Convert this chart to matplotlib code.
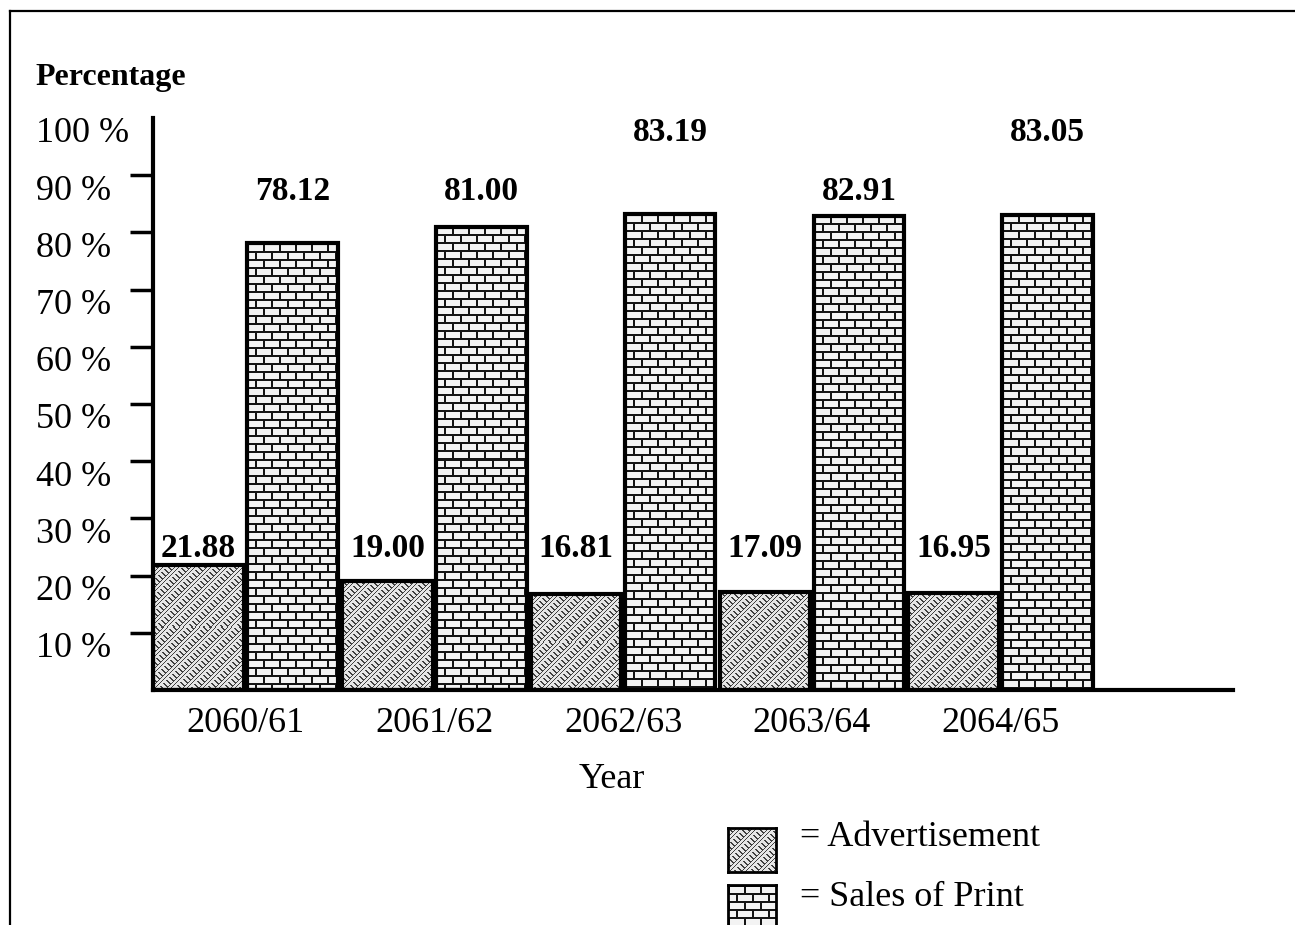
import numpy as np
import matplotlib
matplotlib.use("Agg")
import matplotlib.pyplot as plt
from matplotlib.lines import Line2D
from matplotlib.transforms import ScaledTranslation

plt.rcParams["font.family"] = ["Liberation Serif", "DejaVu Serif"]

# ---- data ----
years = ["2060/61", "2061/62", "2062/63", "2063/64", "2064/65"]
advertisement = [21.88, 19.00, 16.81, 17.09, 16.95]
sales_of_print = [78.12, 81.00, 83.19, 82.91, 83.05]
y_ticks = [10, 20, 30, 40, 50, 60, 70, 80, 90, 100]
y_tick_labels = [f"{t} %" for t in y_ticks]

# label heights (data units) for the value annotations
adv_label_y = [24.8, 24.8, 24.8, 24.8, 24.8]
sales_label_y = [87.2, 87.2, 97.4, 87.2, 97.4]


def brick_texture(ny, nx):
    yy, xx = np.mgrid[0:ny, 0:nx]
    row = yy // 8
    horiz = (yy % 8) < 2
    vert = ((xx + (row % 2) * 8) % 16) < 2
    img = np.full((ny, nx), 0.95)
    img[horiz | vert] = 0.08
    return img


def herringbone_texture(ny, nx):
    yy, xx = np.mgrid[0:ny, 0:nx]
    u = xx + yy
    v = xx - yy
    band = (u // 8) % 2
    dark = np.where(band == 0, (v % 6) < 2, (u % 4) < 1)
    img = np.full((ny, nx), 0.9)
    img[dark] = 0.25
    return img


W, H = 1295, 925
fig = plt.figure(figsize=(W / 100, H / 100), dpi=100)
ax = fig.add_axes([153 / W, 1 - 690 / H, 1080 / W, 572 / H])

x = np.arange(len(years))
bw = 0.48
off = 0.249
xlim = (-0.49, 5.23)
ylim = (0, 100)

adv_bars = ax.bar(x - off, advertisement, width=bw, facecolor="none",
                  edgecolor="black", linewidth=3, zorder=3)
sales_bars = ax.bar(x + off, sales_of_print, width=bw, facecolor="none",
                    edgecolor="black", linewidth=3, zorder=3)
ax.set_xlim(*xlim)
ax.set_ylim(*ylim)


def fill_with_texture(bars, maker):
    for rect in bars:
        x0, y0 = rect.get_x(), rect.get_y()
        w, h = rect.get_width(), rect.get_height()
        p0 = ax.transData.transform((x0, y0))
        p1 = ax.transData.transform((x0 + w, y0 + h))
        nx = max(int(round(p1[0] - p0[0])), 1)
        ny = max(int(round(p1[1] - p0[1])), 1)
        im = ax.imshow(maker(ny, nx), cmap="gray", vmin=0, vmax=1,
                       extent=(x0, x0 + w, y0, y0 + h), aspect="auto",
                       interpolation="nearest", zorder=2)
        im.set_clip_path(rect)


fill_with_texture(adv_bars, herringbone_texture)
fill_with_texture(sales_bars, brick_texture)
ax.set_xlim(*xlim)
ax.set_ylim(*ylim)

# axes styling
for side in ("top", "right"):
    ax.spines[side].set_visible(False)
ax.spines["left"].set_linewidth(3)
ax.spines["bottom"].set_linewidth(3)
ax.spines["left"].set_zorder(4)
ax.spines["bottom"].set_zorder(4)

ax.set_yticks(y_ticks)
ax.set_yticklabels(y_tick_labels, fontsize=26)
ax.tick_params(axis="y", direction="out", length=16.5, width=2.5, pad=68)
for lbl in ax.get_yticklabels():
    lbl.set_horizontalalignment("left")
    lbl.set_transform(lbl.get_transform()
                      + ScaledTranslation(0, -0.12, fig.dpi_scale_trans))
ax.yaxis.get_major_ticks()[-1].tick1line.set_visible(False)

ax.set_xticks(x)
ax.set_xticklabels(years, fontsize=26)
ax.tick_params(axis="x", length=0, pad=12)

# value annotations
for xi, v, ly in zip(x - off, advertisement, adv_label_y):
    ax.text(xi, ly, f"{v:.2f}", ha="center", va="center",
            fontsize=24, fontweight="bold")
for xi, v, ly in zip(x + off, sales_of_print, sales_label_y):
    ax.text(xi, ly, f"{v:.2f}", ha="center", va="center",
            fontsize=24, fontweight="bold")

# titles
fig.text(35 / W, 1 - 77 / H, "Percentage", fontsize=23, fontweight="bold",
         ha="left", va="center")
fig.text(612 / W, 1 - 780 / H, "Year", fontsize=26, ha="center", va="center")

# legend swatches
legend_items = [("= Advertisement", herringbone_texture, 828, 838),
                ("= Sales of Print", brick_texture, 885, 898)]
for text, maker, top_px, text_y in legend_items:
    sw = fig.add_axes([728 / W, 1 - (top_px + 44) / H, 48 / W, 44 / H])
    sw.imshow(maker(44, 48), cmap="gray", vmin=0, vmax=1,
              interpolation="nearest", aspect="auto")
    sw.set_xticks([])
    sw.set_yticks([])
    for s in sw.spines.values():
        s.set_linewidth(2)
    fig.text(800 / W, 1 - text_y / H, text, fontsize=26, ha="left", va="center")

# page frame
fig.add_artist(Line2D([10 / W, 1], [1 - 11 / H, 1 - 11 / H],
                      transform=fig.transFigure, color="black", linewidth=1.6))
fig.add_artist(Line2D([10 / W, 10 / W], [1 - 11 / H, 0],
                      transform=fig.transFigure, color="black", linewidth=1.6))

fig.savefig("out.png", dpi=100)
